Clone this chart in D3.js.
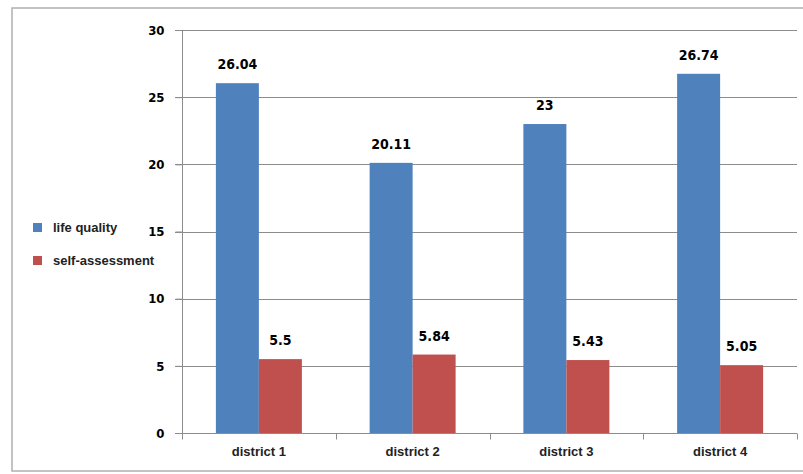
<!DOCTYPE html>
<html>
<head>
<meta charset="utf-8">
<script src="https://cdn.jsdelivr.net/npm/d3@7"></script>
<style>
  body { margin: 0; background: #fff; }
  svg { display: block; }
</style>
</head>
<body>
<div id="chart"></div>
<script>
// values
const districts = ["district 1", "district 2", "district 3", "district 4"];
const seriesNames = ["life quality", "self-assessment"];
const lifeQuality = [26.04, 20.11, 23, 26.74];
const selfAssessment = [5.5, 5.84, 5.43, 5.05];
const valueLabels = [["26.04", "20.11", "23", "26.74"], ["5.5", "5.84", "5.43", "5.05"]];
const yTicks = [0, 5, 10, 15, 20, 25, 30];

var colors = d3.scaleOrdinal().domain(seriesNames).range(["#4f81bd", "#c0504d"]);

var width = 803, height = 474;
var margin = { top: 30, right: 6, bottom: 41, left: 182 };

var svg = d3.select("#chart")
  .append("svg")
  .attr("width", width)
  .attr("height", height);

// outer frame
svg.append("rect")
  .attr("x", 12).attr("y", 8)
  .attr("width", 820).attr("height", 463)
  .attr("fill", "none")
  .attr("stroke", "#b0b0b0")
  .attr("stroke-width", 1.5);

var x = d3.scaleBand()
  .domain(districts)
  .range([margin.left, width - margin.right]);

var xSub = d3.scaleBand()
  .domain(seriesNames)
  .range([0, x.bandwidth()])
  .paddingOuter(0.788);

var y = d3.scaleLinear()
  .domain([0, 30])
  .range([height - margin.bottom, margin.top]);

var gridColor = "#8c8c8c";
var numFont = "'DejaVu Sans Condensed', 'DejaVu Sans', sans-serif";
var textFont = "'Liberation Sans', Arial, sans-serif";

// grid lines
svg.append("g")
  .selectAll("line")
  .data(yTicks.filter(d => d > 0))
  .enter()
  .append("line")
  .attr("x1", margin.left - 7)
  .attr("x2", width - margin.right)
  .attr("y1", d => Math.round(y(d)) + 0.5)
  .attr("y2", d => Math.round(y(d)) + 0.5)
  .attr("stroke", gridColor);

// y axis
var yAxis = svg.append("g")
  .attr("transform", "translate(" + (margin.left + 0.5) + ",0)")
  .call(d3.axisLeft(y).tickValues(yTicks).tickSize(7).tickPadding(11));
yAxis.select(".domain").attr("stroke", gridColor).attr("d", "M0," + y(30) + "V" + y(0));
yAxis.selectAll(".tick line").attr("stroke", gridColor);
yAxis.selectAll("text")
  .attr("font-family", numFont)
  .attr("font-weight", "bold")
  .attr("font-size", "13px")
  .attr("fill", "#000");

// x axis
var xAxis = svg.append("g")
  .attr("transform", "translate(0," + (Math.round(y(0)) + 0.5) + ")");
xAxis.append("line")
  .attr("x1", margin.left - 7)
  .attr("x2", width - margin.right)
  .attr("stroke", gridColor);
xAxis.selectAll(".xtick")
  .data(districts.map(d => x(d)).concat([x.range()[1]]))
  .enter()
  .append("line")
  .attr("x1", d => Math.round(d) + 0.5)
  .attr("x2", d => Math.round(d) + 0.5)
  .attr("y1", 0)
  .attr("y2", 6)
  .attr("stroke", gridColor);
xAxis.selectAll(".xlabel")
  .data(districts)
  .enter()
  .append("text")
  .attr("x", d => x(d) + x.bandwidth() / 2)
  .attr("y", 22)
  .attr("text-anchor", "middle")
  .attr("font-family", textFont)
  .attr("font-weight", "bold")
  .attr("font-size", "13px")
  .attr("fill", "#222")
  .text(d => d);

// bars
var series = [lifeQuality, selfAssessment];
seriesNames.forEach(function (name, si) {
  var data = districts.map((d, i) => ({ district: d, value: series[si][i], label: valueLabels[si][i] }));
  var g = svg.append("g");
  g.selectAll("rect")
    .data(data)
    .enter()
    .append("rect")
    .attr("x", d => x(d.district) + xSub(name))
    .attr("y", d => y(d.value))
    .attr("width", xSub.bandwidth())
    .attr("height", d => y(0) - y(d.value))
    .attr("fill", colors(name));
  g.selectAll("text")
    .data(data)
    .enter()
    .append("text")
    .attr("x", d => x(d.district) + xSub(name) + xSub.bandwidth() / 2)
    .attr("y", d => y(d.value) - 14)
    .attr("text-anchor", "middle")
    .attr("font-family", numFont)
    .attr("font-weight", "bold")
    .attr("font-size", "14px")
    .attr("fill", "#000")
    .text(d => d.label);
});

// legend
var legend = svg.append("g")
  .selectAll("g")
  .data(seriesNames)
  .enter()
  .append("g")
  .attr("transform", (d, i) => "translate(33," + (223 + i * 33) + ")");
legend.append("rect")
  .attr("width", 9)
  .attr("height", 9)
  .attr("fill", d => colors(d));
legend.append("text")
  .attr("x", 20)
  .attr("y", 9)
  .attr("font-family", textFont)
  .attr("font-weight", "bold")
  .attr("font-size", "13px")
  .attr("fill", "#222")
  .text(d => d);
</script>
</body>
</html>
